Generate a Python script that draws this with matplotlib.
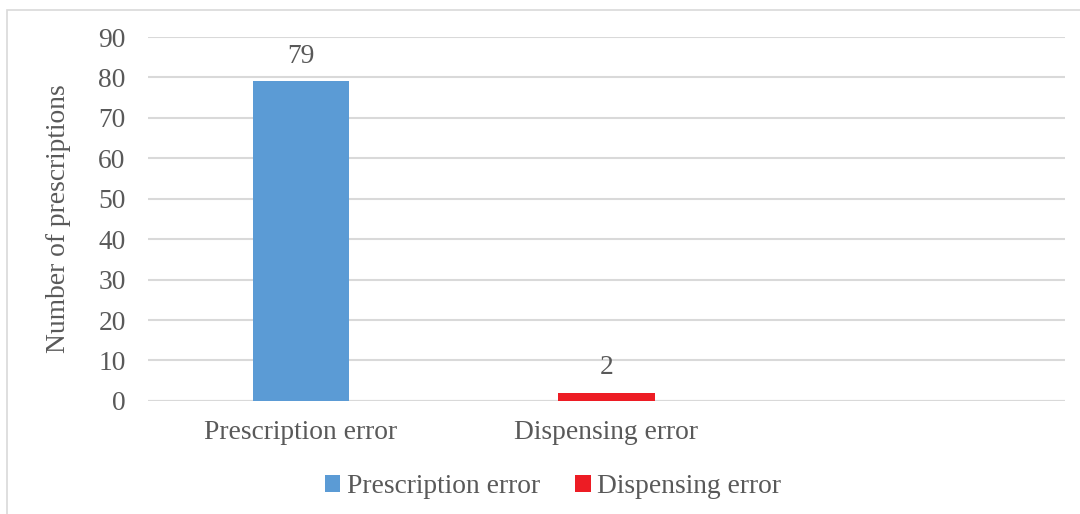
import matplotlib
matplotlib.use("Agg")
import matplotlib.pyplot as plt
from matplotlib.patches import Rectangle

plt.rcParams["font.family"] = ["Liberation Serif", "DejaVu Serif"]

TEXT = "#595959"
GRID = "#D9D9D9"
FS = 19.8

categories = ["Prescription error", "Dispensing error", ""]
series_names = ["Prescription error", "Dispensing error"]
values = [79, 2]
colors = ["#5B9BD5", "#ED1C24"]

fig = plt.figure(figsize=(10.8, 5.14), dpi=100)
ax = fig.add_axes([0.137, 0.22, 0.849, 0.708])

for i, (name, v, c) in enumerate(zip(series_names, values, colors)):
    bars = ax.bar(i, v, width=0.315, color=c, label=name, zorder=3)
    ax.bar_label(bars, labels=[str(v)], padding=9, fontsize=FS, color=TEXT)

ax.set_xlim(-0.5, len(categories) - 0.5)
ax.set_ylim(0, 90)
ax.set_yticks(range(0, 91, 10))
ax.set_xticks(range(len(categories)))
ax.set_xticklabels(categories)
ax.tick_params(axis="both", length=0, labelsize=FS, labelcolor=TEXT)
ax.tick_params(axis="x", pad=14)
ax.tick_params(axis="y", pad=16)
ax.grid(axis="y", color=GRID, linewidth=1.5, zorder=0)
for s in ax.spines.values():
    s.set_visible(False)
ax.axhline(0, color=GRID, linewidth=1.5, zorder=2)

ax.set_ylabel("Number of prescriptions", fontsize=FS, color=TEXT, labelpad=20)

leg = fig.legend(loc="center", bbox_to_anchor=(0.512, 0.053), ncol=2, frameon=False,
                 fontsize=FS, handlelength=0.55, handleheight=0.55, handletextpad=0.25,
                 columnspacing=1.3, labelcolor=TEXT)

# outer chart border
fig.patches.append(Rectangle((7 / 1080, -0.05), 1.1, 1 - 10 / 514 + 0.05,
                             transform=fig.transFigure, fill=False,
                             edgecolor=GRID, linewidth=1.2))

fig.savefig("out.png", dpi=100)
